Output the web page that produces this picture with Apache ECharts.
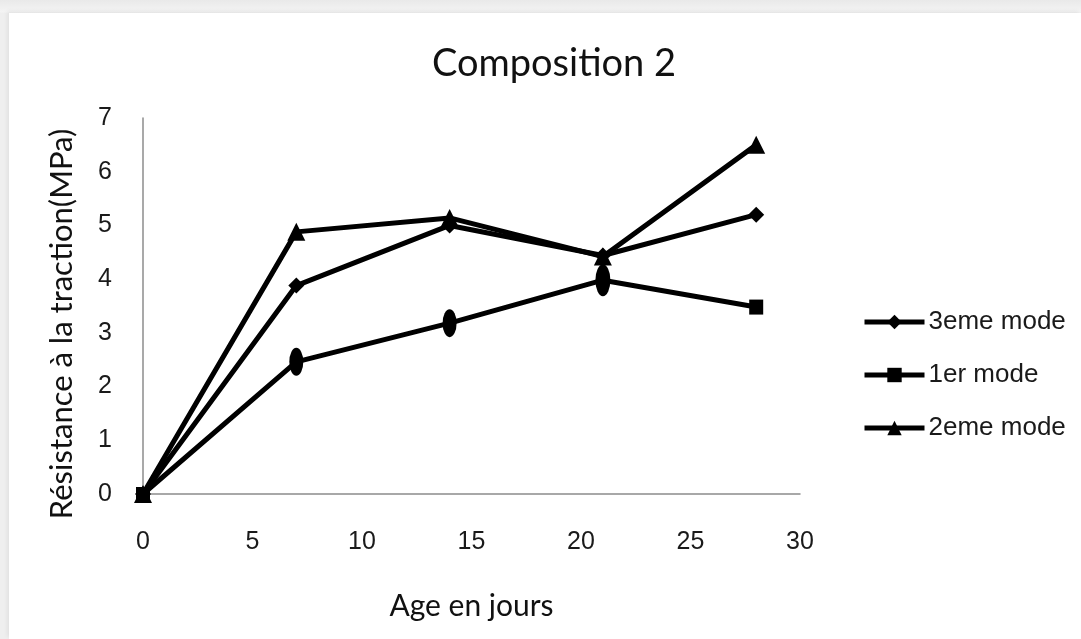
<!DOCTYPE html>
<html>
<head>
<meta charset="utf-8">
<title>Composition 2</title>
<script src="https://cdn.jsdelivr.net/npm/echarts@6/dist/echarts.min.js"></script>
<style>
  html, body { margin: 0; padding: 0; width: 1081px; height: 639px; overflow: hidden; background: #efefef; }
  #frame {
    position: absolute; left: 0; top: 0; width: 1081px; height: 639px;
    background: linear-gradient(to bottom, #e9e9e9 0px, #f4f4f4 12px, transparent 13px);
  }
  #panel {
    position: absolute; left: 9px; top: 13px; right: 0; bottom: 0;
    background: #ffffff; box-shadow: -2px -2px 4px rgba(0,0,0,0.06);
  }
  #chart { position: absolute; left: 0; top: 0; width: 1081px; height: 639px; }
</style>
</head>
<body>
<div id="frame"></div>
<div id="panel"></div>
<div id="chart"></div>
<script>
// Age of the specimens (days)
const ages = [0, 7, 14, 21, 28];

// Tensile strength (MPa) for each curing mode
const mode3 = [0, 3.88, 5.0, 4.44, 5.2];
const mode1 = [0, 2.46, 3.18, 3.98, 3.48];
const mode2 = [0, 4.88, 5.14, 4.42, 6.5];

const seriesNames = ['3eme mode', '1er mode', '2eme mode'];

// Marker look of the "1er mode" points (elongated markers at 7, 14, 21 days)
const mode1Symbols = ['rect', 'circle', 'circle', 'circle', 'rect'];
const mode1Sizes = [[14, 14], [14, 28], [14, 28], [15, 32], [14, 15]];

const pairs = (ys) => ages.map((x, i) => [x, ys[i]]);

const chart = echarts.init(document.getElementById('chart'), null, { renderer: 'canvas' });

const lineStyle = { color: '#000', width: 5 };

chart.setOption({
  backgroundColor: 'transparent',
  animation: false,
  title: {
    text: 'Composition 2',
    left: 549,
    top: 40,
    textAlign: 'center',
    textStyle: { fontFamily: 'Lato', fontSize: 38, fontWeight: 'normal', color: '#111' }
  },
  legend: {
    orient: 'vertical',
    left: 862,
    top: 309,
    padding: 0,
    itemWidth: 60,
    itemHeight: 18,
    itemGap: 27,
    lineStyle: { width: 5, color: '#000' },
    textStyle: { fontFamily: 'Liberation Sans', fontSize: 26, color: '#1a1a1a', padding: [0, 0, 0, -1] },
    data: seriesNames
  },
  grid: { left: 143, top: 118, right: 281, bottom: 145, containLabel: false },
  xAxis: {
    type: 'value',
    min: 0,
    max: 30,
    interval: 5,
    name: 'Age en jours',
    nameLocation: 'middle',
    nameGap: 97,
    nameTextStyle: { fontFamily: 'Lato', fontSize: 30, color: '#111' },
    axisLine: { show: true, lineStyle: { color: '#8c8c8c', width: 1.5 } },
    axisTick: { show: false },
    splitLine: { show: false },
    axisLabel: { margin: 36, fontFamily: 'Liberation Sans', fontSize: 25, color: '#1a1a1a' }
  },
  yAxis: {
    type: 'value',
    min: 0,
    max: 7,
    interval: 1,
    name: 'Résistance à la traction(MPa)',
    nameLocation: 'middle',
    nameGap: 66,
    nameTextStyle: { fontFamily: 'Lato', fontSize: 31, color: '#111', padding: [0, 36, 0, 0] },
    axisLine: { show: true, lineStyle: { color: '#8c8c8c', width: 1.5 } },
    axisTick: { show: false },
    splitLine: { show: false },
    axisLabel: { margin: 31, fontFamily: 'Liberation Sans', fontSize: 25, color: '#1a1a1a' }
  },
  series: [
    {
      name: seriesNames[0],
      type: 'line',
      data: pairs(mode3),
      symbol: 'diamond',
      symbolSize: 16,
      itemStyle: { color: '#000' },
      lineStyle: lineStyle,
      z: 3
    },
    {
      name: seriesNames[1],
      type: 'line',
      data: pairs(mode1).map((p, i) => ({
        value: p,
        symbol: mode1Symbols[i],
        symbolSize: mode1Sizes[i]
      })),
      symbol: 'rect',
      symbolSize: 14,
      itemStyle: { color: '#000' },
      lineStyle: lineStyle,
      z: 2
    },
    {
      name: seriesNames[2],
      type: 'line',
      data: pairs(mode2),
      symbol: 'triangle',
      symbolSize: 18,
      itemStyle: { color: '#000' },
      lineStyle: lineStyle,
      z: 4
    }
  ]
});
</script>
</body>
</html>
